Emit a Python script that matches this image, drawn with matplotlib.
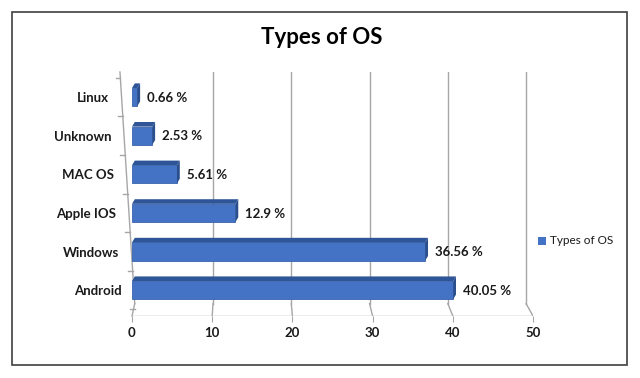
import matplotlib
matplotlib.use("Agg")
import matplotlib.pyplot as plt
from matplotlib.patches import Polygon, Rectangle
import numpy as np

categories = ["Android", "Windows", "Apple IOS", "MAC OS", "Unknown", "Linux"]
values = [40.05, 36.56, 12.9, 5.61, 2.53, 0.66]
value_labels = ["40.05 %", "36.56 %", "12.9 %", "5.61 %", "2.53 %", "0.66 %"]
xticks = [0, 10, 20, 30, 40, 50]
title = "Types of OS"
series_name = "Types of OS"

FONT = ["Lato", "DejaVu Sans"]
plt.rcParams['font.family'] = FONT

fig = plt.figure(figsize=(6.4, 3.78), dpi=100)
W, H = 640, 378
ax = fig.add_axes([132 / W, 1 - 316 / H, (533 - 132) / W, (316 - 72) / H])
YTOP, YBOT = 5.65, -0.67
ax.set_xlim(0, 50)
ax.set_ylim(YBOT, YTOP)
for s in ax.spines.values():
    s.set_visible(False)

ypos = np.arange(len(categories))
bar_h = 0.47
main = "#4472C4"
top_c = "#2E5597"
side_c = "#2B4F8C"
grid_c = "#A6A6A6"

floor_back = -0.35
wall_top_x, wall_bot_x = -1.5, 0.34


def wall_x(yy):
    frac = (YTOP - yy) / (YTOP - floor_back)
    return wall_top_x + (wall_bot_x - wall_top_x) * frac


# gridlines (back wall with perspective floor)
for v in xticks[1:]:
    bx = 0.34 + 0.976 * v
    ax.plot([bx, bx], [floor_back, YTOP], color=grid_c, lw=1.0, zorder=1)
    ax.plot([bx, v], [floor_back, YBOT], color=grid_c, lw=1.0, zorder=1)
ax.plot([0, 50], [YBOT, YBOT], color=grid_c, lw=1.0, zorder=1)
# left wall
ax.plot([wall_top_x, wall_bot_x], [YTOP, floor_back], color=grid_c, lw=1.0, zorder=1, clip_on=False)
ax.plot([wall_bot_x, 0], [floor_back, YBOT], color=grid_c, lw=1.0, zorder=1, clip_on=False)
for k in range(len(categories) + 1):
    yy = k - 0.5
    xx = wall_x(yy)
    ax.plot([xx - 0.6, xx], [yy, yy], color=grid_c, lw=1.0, clip_on=False)

# bars with 3D faces
dx, dy = 0.35, 0.12
ax.barh(ypos, values, height=bar_h, color=main, edgecolor="#3A64AD", lw=0.6, zorder=3)
for y, v in zip(ypos, values):
    y0, y1 = y - bar_h / 2, y + bar_h / 2
    ax.add_patch(Polygon([[0, y1], [v, y1], [v + dx, y1 + dy], [dx, y1 + dy]],
                         closed=True, facecolor=top_c, edgecolor="none", zorder=3))
    ax.add_patch(Polygon([[v, y0], [v + dx, y0 + dy], [v + dx, y1 + dy], [v, y1]],
                         closed=True, facecolor=side_c, edgecolor="none", zorder=3))

for y, v, lab in zip(ypos, values, value_labels):
    ax.text(v + 1.2, y - 0.02, lab, va="center", ha="left", fontsize=9.5,
            fontweight="bold", color="#1A1A1A", zorder=4)

# category labels following the slanted wall
for y, cat in zip(ypos, categories):
    ax.annotate(cat, xy=(wall_x(y), y - 0.03), xytext=(-9, 0), textcoords="offset points",
                ha="right", va="center", fontsize=9.5, fontweight="bold",
                color="#1A1A1A", annotation_clip=False)
ax.set_yticks([])
ax.set_xticks(xticks)
ax.set_xticklabels([str(t) for t in xticks], fontsize=9.5, fontweight="bold", color="#1A1A1A")
ax.tick_params(axis="x", length=4, color=grid_c, pad=4)
ax.grid(False)

fig.text(322 / W, 1 - 38 / H, title, ha="center", va="center", fontsize=16, fontweight="bold", color="#000000")

# legend
fig.patches.append(Rectangle((538 / W, 1 - 245 / H), 8 / W, 8 / H, transform=fig.transFigure,
                             facecolor=main, edgecolor="none"))
fig.text(550 / W, 1 - 241 / H, series_name, ha="left", va="center", fontsize=8.5, color="#1A1A1A")

# outer border
fig.patches.append(Rectangle((12 / W, 1 - 365 / H), (627 - 12) / W, (365 - 12) / H,
                             transform=fig.transFigure, facecolor="none", edgecolor="#404040", lw=1.2))

fig.savefig("out.png", dpi=100)
